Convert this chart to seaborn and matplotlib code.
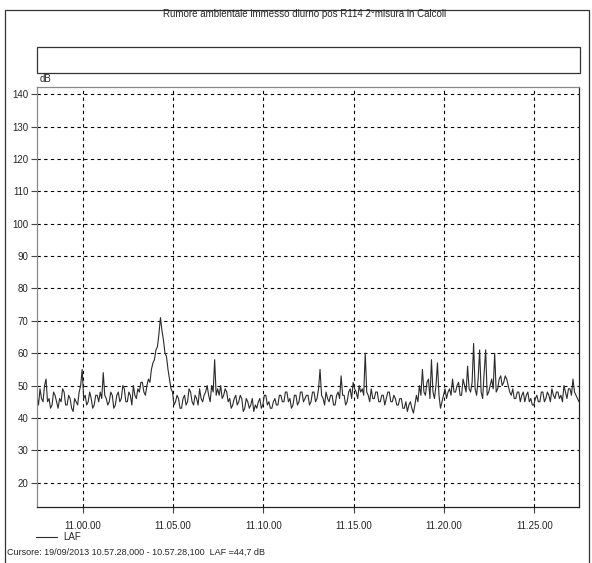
import pandas as pd
import numpy as np
import matplotlib
matplotlib.use("Agg")
import matplotlib.pyplot as plt
import matplotlib.dates as mdates
from matplotlib.patches import Rectangle
import seaborn as sns

title = "Rumore ambientale immesso diurno pos R114 2\u00b0misura in Calcoli"
cursor_text = "Cursore: 19/09/2013 10.57.28,000 - 10.57.28,100  LAF =44,7 dB"
start_time = "2013-09-19 10:57:28"
step_seconds = 5

# LAF levels (dB), one every 5 s (one row = one minute)
laf = [
    47, 44, 49, 46, 45, 50, 52, 45, 46, 43, 44, 48,
    47, 45, 43, 46, 45, 49, 48, 44, 44, 47, 46, 43,
    42, 46, 45, 44, 48, 50, 55, 46, 47, 44, 45, 48,
    46, 43, 44, 47, 47, 45, 48, 46, 54, 47, 46, 44,
    45, 48, 47, 43, 44, 47, 48, 45, 46, 50, 49, 45,
    45, 48, 47, 44, 50, 47, 46, 49, 48, 51, 51, 48,
    47, 50, 52, 51, 55, 57, 58, 61, 62, 66, 71, 67,
    64, 60, 59, 55, 52, 49, 48, 44, 45, 47, 46, 43,
    43, 46, 47, 44, 45, 49, 48, 45, 44, 47, 46, 44,
    49, 46, 45, 47, 48, 50, 47, 45, 50, 48, 58, 47,
    49, 47, 50, 46, 47, 49, 48, 45, 46, 43, 44, 46,
    47, 44, 45, 47, 46, 42, 43, 46, 45, 43, 44, 46,
    42, 44, 43, 45, 46, 43, 44, 47, 47, 44, 45, 43,
    43, 45, 46, 44, 44, 47, 47, 45, 45, 48, 48, 45,
    46, 43, 44, 47, 47, 44, 45, 48, 48, 45, 46, 47,
    47, 44, 45, 48, 48, 45, 46, 49, 55, 47, 46, 44,
    48, 46, 45, 47, 47, 44, 44, 47, 48, 46, 53, 47,
    47, 44, 45, 48, 49, 46, 51, 49, 48, 46, 50, 48,
    49, 47, 60, 48, 47, 45, 49, 46, 46, 48, 48, 45,
    45, 47, 47, 44, 46, 48, 48, 45, 45, 47, 46, 44,
    44, 46, 46, 43, 43, 45, 42, 44, 45, 43, 41.5, 44,
    47, 45, 50, 47, 55, 48, 47, 51, 52, 46, 58, 48,
    46, 50, 57, 47, 43, 45, 47, 49, 46, 48, 49, 47,
    52, 48, 48, 50, 51, 47, 47, 52, 50, 48, 56, 49,
    48, 51, 63, 49, 47, 52, 61, 48, 46, 54, 61, 47,
    48, 50, 52, 49, 60, 48, 49, 52, 53, 50, 51, 53,
    52, 50, 48, 47, 49, 46, 46, 48, 48, 45, 47, 48,
    45, 47, 48, 45, 46, 44, 44, 46, 47, 45, 45, 48,
    48, 45, 46, 48, 47, 45, 49, 47, 46, 48, 48, 46,
    47, 45, 50, 48, 46, 49, 49, 47, 52, 48, 47, 46,
    45,
]
y_ticks = [20, 30, 40, 50, 60, 70, 80, 90, 100, 110, 120, 130, 140]
x_ticks = ["11:00:00", "11:05:00", "11:10:00", "11:15:00", "11:20:00", "11:25:00"]

times = pd.date_range(start_time, periods=len(laf), freq=f"{step_seconds}s")
df = pd.DataFrame({"time": times, "LAF": laf})

sns.set_style("white")
plt.rcParams['font.family'] = ['Liberation Sans Narrow', 'Liberation Sans', 'DejaVu Sans']

fig = plt.figure(figsize=(5.92, 5.63), dpi=100)
ax = fig.add_axes([37/592, 1 - 507/563, (579 - 37)/592, (507 - 86.7)/563])

sns.lineplot(data=df, x="time", y="LAF", ax=ax, color="#2b2b2b", linewidth=0.8, label="LAF", legend=False)

ax.set_xlim(times[0], times[-1])
ax.set_ylim(12.5, 142.3)
ax.set_yticks(y_ticks)
ax.set_xticks(pd.to_datetime(["2013-09-19 " + t for t in x_ticks]))
ax.xaxis.set_major_formatter(mdates.DateFormatter("%H.%M.%S"))
ax.set_xlabel("")
ax.set_ylabel("")
ax.grid(True, color="black", linestyle=(0, (3, 3)), linewidth=0.8)
ax.tick_params(axis="both", direction="out", length=4, width=0.8, color="#444444",
               labelsize=7, pad=2, left=True, bottom=True)
ax.tick_params(axis="x", pad=6)
for name, sp in ax.spines.items():
    sp.set_visible(True)
    sp.set_linewidth(0.9)
    sp.set_color("#222222" if name in ("bottom", "right") else "#888888")

# outer frame, empty header box and texts
fig.add_artist(Rectangle((5/592, -0.01), 584/592, 1.001 - 5/563, transform=fig.transFigure,
                         fill=False, edgecolor="#333333", linewidth=0.9))
fig.add_artist(Rectangle((37/592, 1 - 73/563), 543/592, 26/563, transform=fig.transFigure,
                         fill=False, edgecolor="#333333", linewidth=0.9))
fig.text(305/592, 1 - 14/563, title, ha="center", va="center", fontsize=7)
fig.text(40/592, 1 - 79/563, "dB", ha="left", va="center", fontsize=7)
fig.text(7/592, 1 - 552/563, cursor_text, ha="left", va="center", fontsize=6.5)

handles, labels = ax.get_legend_handles_labels()
fig.legend(handles, labels, loc="center left", bbox_to_anchor=(32/592, 1 - 537/563),
           frameon=False, fontsize=7, handlelength=2.2, handletextpad=0.6, borderaxespad=0)

fig.savefig("out.png", dpi=100)
